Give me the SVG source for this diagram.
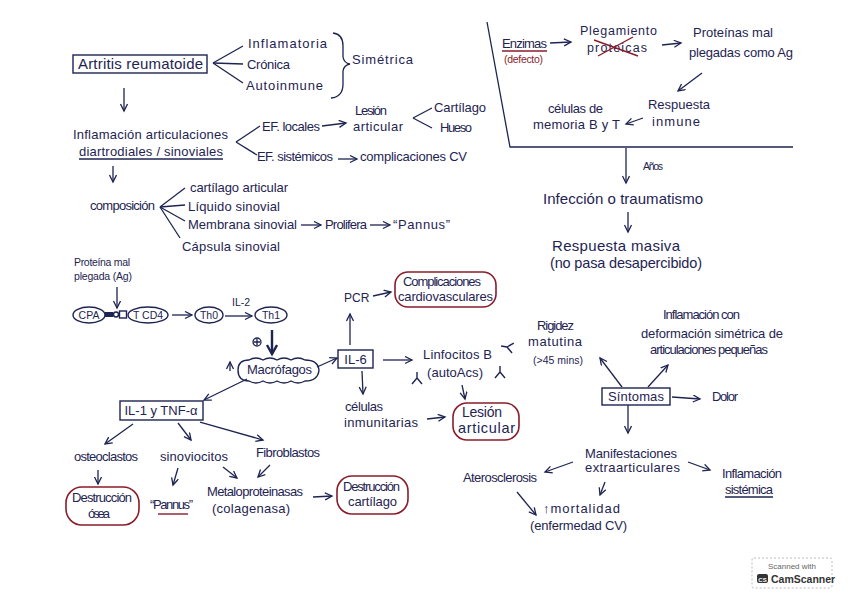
<svg xmlns="http://www.w3.org/2000/svg" width="848" height="599" viewBox="0 0 848 599">
<defs>
<marker id="ah" markerWidth="12" markerHeight="12" refX="8" refY="4" orient="auto" markerUnits="userSpaceOnUse">
<path d="M1,0.5 L8,4 L1,7.5" fill="none" stroke="#1e2452" stroke-width="1.3"/>
</marker>
<marker id="ahb" markerWidth="16" markerHeight="16" refX="10" refY="6" orient="auto" markerUnits="userSpaceOnUse">
<path d="M1,1 L10,6 L1,11" fill="none" stroke="#1e2452" stroke-width="2.4"/>
</marker>
<path id="ab" d="M0,-6 L0,0 M0,0 L-5,6 M0,0 L5,6" fill="none" stroke="#1e2452" stroke-width="1.4"/>
</defs>
<style>
text{font-family:"Liberation Sans",Arial,sans-serif;font-size:13px;fill:#1e2452}
.s{font-size:10.5px}
.c{text-anchor:middle}
.r{fill:#8a1c2b}
.ln{stroke:#1e2452;stroke-width:1.3;fill:none}
.rl{stroke:#8a1c2b;stroke-width:1.4;fill:none}
.a{stroke:#1e2452;stroke-width:1.3;fill:none;marker-end:url(#ah)}
.box{fill:none;stroke:#1e2452;stroke-width:1.4}
.rbox{fill:none;stroke:#8a1c2b;stroke-width:1.6}
</style>
<rect width="848" height="599" fill="#ffffff"/>

<g id="connectors">
<line class="ln" x1="213" y1="63" x2="243" y2="46"/>
<line class="ln" x1="213" y1="63" x2="243" y2="64"/>
<line class="ln" x1="213" y1="63" x2="243" y2="83"/>
<path class="ln" d="M333,33 Q343,34 343,46 L343,57 Q344,63 350,64 Q344,65 343,71 L343,84 Q343,97 331,98"/>
<line class="a" x1="124" y1="88" x2="124" y2="111"/>
<line class="ln" x1="236" y1="142" x2="260" y2="126"/>
<line class="ln" x1="236" y1="142" x2="257" y2="155"/>
<line class="a" x1="322" y1="126" x2="346" y2="123"/>
<line class="ln" x1="413" y1="118" x2="432" y2="108"/>
<line class="ln" x1="413" y1="118" x2="432" y2="128"/>
<line class="a" x1="338" y1="159" x2="357" y2="159"/>
<line class="a" x1="113" y1="166" x2="113" y2="182"/>
<line class="ln" x1="160" y1="207" x2="185" y2="188"/>
<line class="ln" x1="160" y1="207" x2="185" y2="205"/>
<line class="ln" x1="160" y1="207" x2="185" y2="221"/>
<line class="ln" x1="160" y1="207" x2="180" y2="238"/>
<line class="a" x1="301" y1="225" x2="321" y2="225"/>
<line class="a" x1="370" y1="225" x2="390" y2="225"/>
<polyline class="ln" points="487,22 510,147 793,147"/>
<line class="a" x1="550" y1="43" x2="571" y2="42"/>
<line class="a" x1="662" y1="45" x2="681" y2="43"/>
<line class="a" x1="702" y1="73" x2="678" y2="91"/>
<line class="a" x1="643" y1="118" x2="626" y2="124"/>
<line class="a" x1="626" y1="148" x2="626" y2="183"/>
<line class="a" x1="628" y1="212" x2="628" y2="232"/>
<line class="a" x1="117" y1="287" x2="117" y2="308"/>
<line class="a" x1="172" y1="315" x2="192" y2="315"/>
<line class="a" x1="225" y1="316" x2="252" y2="316"/>
<line x1="272" y1="330" x2="272" y2="354" stroke="#1e2452" stroke-width="2.4" marker-end="url(#ahb)"/>
<line class="a" x1="230" y1="371" x2="230" y2="362"/>
<line class="a" x1="247" y1="379" x2="204" y2="400"/>
<line class="a" x1="317" y1="367" x2="337" y2="358"/>
<line class="a" x1="133" y1="424" x2="105" y2="444"/>
<line class="a" x1="178" y1="423" x2="191" y2="440"/>
<line class="a" x1="200" y1="422" x2="263" y2="440"/>
<line class="a" x1="98" y1="470" x2="98" y2="484"/>
<line class="a" x1="178" y1="468" x2="173" y2="485"/>
<line class="a" x1="223" y1="467" x2="237" y2="478"/>
<line class="a" x1="270" y1="465" x2="258" y2="477"/>
<line class="a" x1="313" y1="497" x2="332" y2="496"/>
<line class="a" x1="350" y1="345" x2="350" y2="314"/>
<line class="a" x1="373" y1="296" x2="391" y2="292"/>
<line class="a" x1="383" y1="360" x2="412" y2="360"/>
<line class="a" x1="362" y1="371" x2="363" y2="394"/>
<line class="a" x1="462" y1="385" x2="465" y2="399"/>
<line class="a" x1="427" y1="419" x2="445" y2="417"/>
<use href="#ab" transform="translate(417,378)"/>
<use href="#ab" transform="translate(500,372)"/>
<use href="#ab" transform="translate(507,347) rotate(-80)"/>
<line class="a" x1="622" y1="387" x2="600" y2="358"/>
<line class="a" x1="648" y1="387" x2="668" y2="365"/>
<line class="a" x1="672" y1="397" x2="700" y2="399"/>
<line class="a" x1="628" y1="405" x2="628" y2="433"/>
<line class="a" x1="573" y1="462" x2="545" y2="472"/>
<line class="a" x1="605" y1="482" x2="600" y2="495"/>
<line class="a" x1="688" y1="462" x2="710" y2="470"/>
<line class="a" x1="517" y1="492" x2="536" y2="515"/>
</g>

<g id="artritis">
<rect class="box" x="73" y="55" width="134" height="18"/>
<text x="78" y="69" textLength="125" style="font-size:15px">Artritis reumatoide</text>
</g>
<g id="tipos">
<text x="248" y="48" textLength="79">Inflamatoria</text>
<text x="247" y="69" textLength="43">Crónica</text>
<text x="246" y="90" textLength="77">Autoinmune</text>
</g>
<g id="simetrica"><text x="352" y="64" textLength="61">Simétrica</text></g>
<g id="inflamacion">
<text x="73" y="139" textLength="155">Inflamación articulaciones</text>
<text x="79" y="156" textLength="144">diartrodiales / sinoviales</text>
<line class="ln" x1="79" y1="159" x2="223" y2="159"/>
</g>
<g id="ef-locales"><text x="262" y="131" textLength="58">EF. locales</text></g>
<g id="lesion1">
<text x="355" y="115" textLength="32">Lesión</text>
<text x="353" y="131" textLength="50">articular</text>
</g>
<g id="cartilago1"><text x="434" y="112" textLength="52">Cartílago</text></g>
<g id="hueso"><text x="440" y="132" textLength="32">Hueso</text></g>
<g id="ef-sistemicos"><text x="257" y="161" textLength="76">EF. sistémicos</text></g>
<g id="complicaciones-cv"><text x="360" y="161" textLength="107">complicaciones CV</text></g>

<g id="composicion"><text x="90" y="210" textLength="65">composición</text></g>
<g id="cartilago-art"><text x="190" y="192" textLength="98">cartílago articular</text></g>
<g id="liquido"><text x="188" y="211" textLength="92">Líquido sinovial</text></g>
<g id="membrana"><text x="188" y="229" textLength="109">Membrana sinovial</text></g>
<g id="prolifera"><text x="325" y="229" textLength="42">Prolifera</text></g>
<g id="pannus1"><text x="393" y="229" textLength="57">“Pannus”</text></g>
<g id="capsula"><text x="182" y="251" textLength="98">Cápsula sinovial</text></g>

<g id="enzimas">
<text x="502" y="48" textLength="45">Enzimas</text>
<line class="rl" x1="502" y1="51" x2="547" y2="51"/>
<text class="s r" x="504" y="63" textLength="39">(defecto)</text>
</g>
<g id="plegamiento">
<text x="580" y="35" textLength="77" style="font-size:12.5px">Plegamiento</text>
<text x="587" y="52" textLength="60" style="font-size:12.5px">proteicas</text>
<line class="rl" x1="594" y1="40" x2="638" y2="56"/>
<line class="rl" x1="598" y1="56" x2="633" y2="37"/>
</g>
<g id="proteinas-mal">
<text x="693" y="37" textLength="80">Proteínas mal</text>
<text x="689" y="57" textLength="104">plegadas como Ag</text>
</g>
<g id="respuesta-inmune">
<text x="648" y="109" textLength="62">Respuesta</text>
<text x="652" y="126" textLength="48">inmune</text>
</g>
<g id="memoria">
<text x="548" y="113" textLength="55">células de</text>
<text x="533" y="129" textLength="87">memoria B y T</text>
</g>
<g id="anos"><text class="s" x="643" y="170" textLength="20">Años</text></g>
<g id="infeccion"><text x="543" y="204" textLength="160" style="font-size:15px">Infección o traumatismo</text></g>
<g id="respuesta-masiva">
<text x="552" y="251" textLength="128" style="font-size:15px">Respuesta masiva</text>
<text x="550" y="268" textLength="152" style="font-size:14.5px">(no pasa desapercibido)</text>
</g>

<g id="proteina-ag">
<text class="s" x="74" y="266" textLength="56">Proteína mal</text>
<text class="s" x="74" y="280" textLength="58">plegada (Ag)</text>
</g>
<g id="cpa">
<ellipse class="box" cx="89" cy="315" rx="16" ry="8"/>
<text class="s c" x="89" y="319">CPA</text>
<rect x="105" y="312" width="8" height="5" fill="#1e2452"/>
<circle class="box" cx="116" cy="314.5" r="2.5" stroke-width="1"/>
<rect class="box" x="119.5" y="311" width="7" height="7" stroke-width="1"/>
</g>
<g id="tcd4">
<ellipse class="box" cx="148" cy="315" rx="20" ry="8"/>
<text class="s c" x="148" y="319">T CD4</text>
</g>
<g id="th0">
<ellipse class="box" cx="209" cy="315" rx="14" ry="8"/>
<text class="s c" x="209" y="319">Th0</text>
</g>
<g id="il2"><text class="s" x="232" y="306">IL-2</text></g>
<g id="th1">
<ellipse class="box" cx="271" cy="315" rx="16" ry="8"/>
<text class="s c" x="271" y="319">Th1</text>
</g>
<g id="plus">
<circle class="ln" cx="257" cy="342" r="4" stroke-width="1"/>
<path class="ln" d="M254,342 H260 M257,339 V345" stroke-width="1"/>
</g>
<g id="macrofagos">
<path class="box" d="M249,360 Q256,356 263,360 Q270,356 277,360 Q284,356 291,360 Q298,356 305,360 Q318,360 319,370 Q318,381 305,381 Q298,385 291,381 Q284,385 277,381 Q270,385 263,381 Q256,385 249,381 Q238,381 238,370 Q238,360 249,360 Z"/>
<text x="247" y="374" textLength="65">Macrófagos</text>
</g>
<g id="il1">
<rect class="box" x="120" y="401" width="83" height="19"/>
<text class="c" x="161" y="415">IL-1 y TNF-α</text>
</g>
<g id="osteoclastos"><text x="74" y="461" textLength="64">osteoclastos</text></g>
<g id="sinoviocitos"><text x="160" y="461" textLength="68">sinoviocitos</text></g>
<g id="fibroblastos"><text x="256" y="457" textLength="64">Fibroblastos</text></g>
<g id="destruccion-osea">
<rect class="rbox" x="66" y="487" width="73" height="38" rx="16"/>
<text x="72" y="502" textLength="60">Destrucción</text>
<text x="88" y="518" textLength="22">ósea</text>
</g>
<g id="pannus2">
<text x="150" y="509" textLength="43">“Pannus”</text>
<line class="rl" x1="158" y1="514" x2="188" y2="514"/>
</g>
<g id="metaloproteinasas">
<text x="207" y="496" textLength="96">Metaloproteinasas</text>
<text x="212" y="513" textLength="78">(colagenasa)</text>
</g>
<g id="destruccion-cartilago">
<rect class="rbox" x="337" y="476" width="71" height="38" rx="15"/>
<text x="343" y="491" textLength="57">Destrucción</text>
<text x="348" y="506" textLength="49">cartílago</text>
</g>

<g id="pcr"><text x="344" y="302" style="font-size:12px">PCR</text></g>
<g id="complicaciones-cardio">
<rect class="rbox" x="395" y="272" width="101" height="35" rx="13"/>
<text x="403" y="286" textLength="78">Complicaciones</text>
<text x="398" y="301" textLength="95">cardiovasculares</text>
</g>
<g id="il6">
<rect class="box" x="338" y="350" width="35" height="18"/>
<text class="c" x="355.5" y="364">IL-6</text>
</g>
<g id="linfocitos">
<text x="423" y="359" textLength="69">Linfocitos B</text>
<text x="427" y="377" textLength="56">(autoAcs)</text>
</g>
<g id="celulas-inmunitarias">
<text x="345" y="411" textLength="38">células</text>
<text x="344" y="427" textLength="74">inmunitarias</text>
</g>
<g id="lesion2">
<rect class="rbox" x="453" y="403" width="66" height="37" rx="14"/>
<text x="462" y="417" textLength="40" style="font-size:14px">Lesión</text>
<text x="458" y="433" textLength="57" style="font-size:14.5px">articular</text>
</g>

<g id="rigidez">
<text x="537" y="330" textLength="37">Rigidez</text>
<text x="528" y="346" textLength="54">matutina</text>
<text class="s" x="533" y="364" textLength="50">(&gt;45 mins)</text>
</g>
<g id="inflamacion-deformacion">
<text x="663" y="319" textLength="77">Inflamación con</text>
<text x="641" y="338" textLength="142">deformación simétrica de</text>
<text x="650" y="354" textLength="118">articulaciones pequeñas</text>
</g>
<g id="sintomas">
<rect class="box" x="602" y="388" width="68" height="17"/>
<text x="608" y="401" textLength="56">Síntomas</text>
</g>
<g id="dolor"><text x="712" y="401" textLength="26">Dolor</text></g>
<g id="manifestaciones">
<text x="585" y="458" textLength="92">Manifestaciones</text>
<text x="585" y="472" textLength="95">extraarticulares</text>
</g>
<g id="aterosclerosis"><text x="463" y="482" textLength="74">Aterosclerosis</text></g>
<g id="inflamacion-sistemica">
<text x="722" y="478" textLength="60">Inflamación</text>
<text x="725" y="494" textLength="48">sistémica</text>
<line class="ln" x1="725" y1="497" x2="773" y2="497"/>
</g>
<g id="mortalidad">
<text x="543" y="513" textLength="77">↑mortalidad</text>
<text x="530" y="530" textLength="97">(enfermedad CV)</text>
</g>

<g id="watermark">
<rect x="752" y="558" width="80" height="30" rx="2" fill="#ffffff" stroke="#bbbbbb" stroke-dasharray="2,2"/>
<text x="792" y="569" text-anchor="middle" style="font-size:8px;fill:#666">Scanned with</text>
<rect x="757" y="574" width="11" height="9" rx="2" fill="#333"/>
<text x="762.5" y="581.5" text-anchor="middle" style="font-size:6px;fill:#fff;font-weight:bold">CS</text>
<text x="771" y="583" style="font-size:10.5px;fill:#333;font-weight:bold">CamScanner</text>
</g>
</svg>
